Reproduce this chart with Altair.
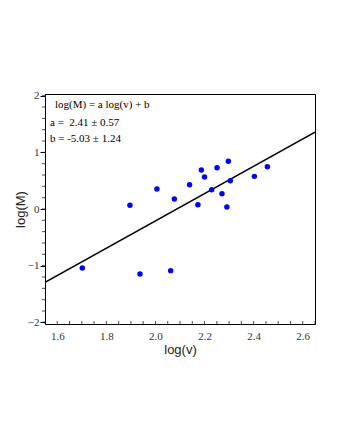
import altair as alt
import pandas as pd

log_v = [1.702, 1.896, 1.937, 2.006, 2.062, 2.077, 2.139, 2.173, 2.187,
         2.200, 2.229, 2.251, 2.271, 2.291, 2.297, 2.305, 2.403, 2.456]
log_M = [-1.04, 0.065, -1.147, 0.353, -1.088, 0.176, 0.43, 0.076, 0.688,
         0.565, 0.341, 0.729, 0.27, 0.035, 0.841, 0.50, 0.576, 0.747]
slope = 2.41
intercept = -5.03
x_domain = [1.55, 2.65]
y_domain = [-2.03, 2.03]
x_labels = [1.6, 1.8, 2.0, 2.2, 2.4, 2.6]
x_minor = [round(1.55 + 0.05 * i, 2) for i in range(23)]
y_labels = [-2, -1, 0, 1, 2]
y_minor = [round(-2 + 0.2 * i, 1) for i in range(21)]
notes = ["log(M) = a log(v) + b", "a =\u00a0 2.41 \u00b1 0.57", "b = -5.03 \u00b1 1.24"]

pts = pd.DataFrame({"x": log_v, "y": log_M})
fit = pd.DataFrame({"x": x_domain, "y": [slope * v + intercept for v in x_domain]})

W, H = 270, 230
xs = alt.Scale(domain=x_domain, nice=False, zero=False)
ys = alt.Scale(domain=y_domain, nice=False, zero=False)

x_axis = alt.Axis(values=x_labels, format=".1f", title="log(v)", ticks=False,
                  grid=False, labelFont="Liberation Serif", labelFontSize=11,
                  labelColor="#333", titleFont="Liberation Sans", titleFontSize=13,
                  titleFontWeight="normal", titleColor="#222", labelPadding=6,
                  titlePadding=2, domainColor="black")
y_axis = alt.Axis(values=y_labels, format="d", title="log(M)", grid=False,
                  tickSize=5, labelOverlap=False,
                  labelFont="Liberation Serif", labelFontSize=11, labelColor="#333",
                  titleFont="Liberation Sans", titleFontSize=13, titleFontWeight="normal",
                  titleColor="#222", tickColor="black", domainColor="black",
                  labelPadding=1, titlePadding=0)

line = alt.Chart(fit).mark_line(color="black", strokeWidth=1.6, clip=True).encode(
    x=alt.X("x:Q", scale=xs, axis=x_axis),
    y=alt.Y("y:Q", scale=ys, axis=y_axis),
)
dots = alt.Chart(pts).mark_circle(color="#0000ff", size=30, opacity=1).encode(
    x=alt.X("x:Q"),
    y=alt.Y("y:Q"),
)
xminor = alt.Chart(pd.DataFrame({"x": x_minor})).mark_tick(
    orient="vertical", color="black", thickness=1, size=3, yOffset=-1.5).encode(
    x=alt.X("x:Q"),
    y=alt.value(H),
)
yminor = alt.Chart(pd.DataFrame({"y": y_minor})).mark_tick(
    orient="horizontal", color="black", thickness=1, size=3, xOffset=-1.5).encode(
    y=alt.Y("y:Q"),
    x=alt.value(0),
)
note_pos = [(10, 11), (5, 29), (5, 45)]
texts = [
    alt.Chart(pd.DataFrame({"t": [n]})).mark_text(
        align="left", baseline="middle", font="Liberation Serif", fontSize=11,
        color="black").encode(text="t:N", x=alt.value(px), y=alt.value(py))
    for n, (px, py) in zip(notes, note_pos)
]

chart = alt.layer(line, dots, xminor, yminor, *texts).properties(
    width=W, height=H,
    autosize=alt.AutoSizeParams(type="none"),
    padding={"left": 37, "top": 86, "right": 17, "bottom": 108},
).configure_view(stroke="black", strokeWidth=1).configure_axis(
    domainWidth=1
)

chart.save("out.html", embed_options={"renderer": "svg", "actions": False})
